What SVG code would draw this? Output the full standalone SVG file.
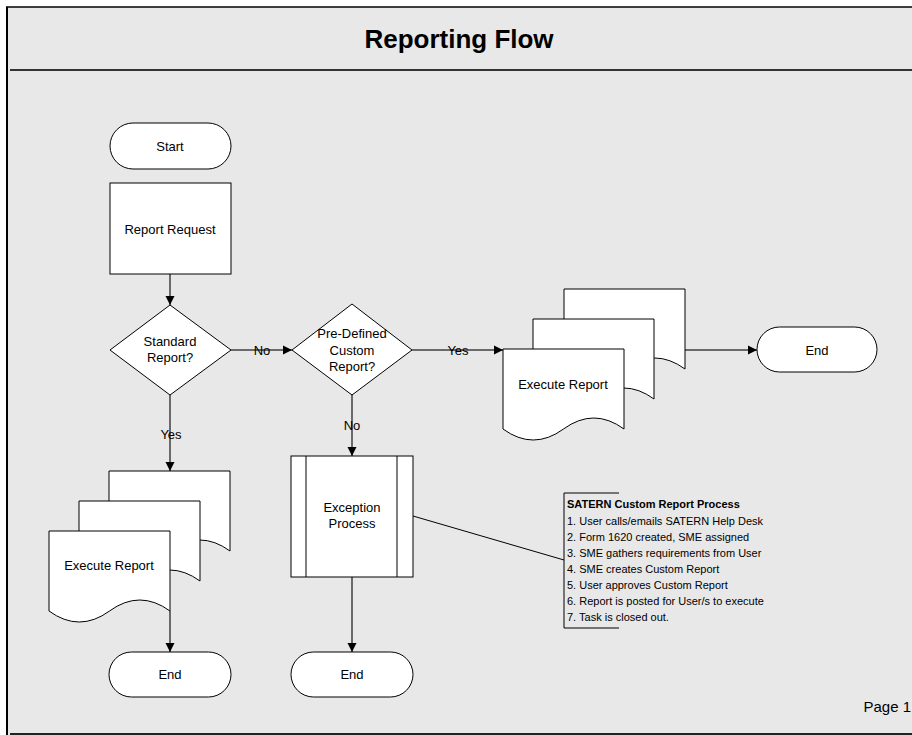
<svg xmlns="http://www.w3.org/2000/svg" width="912" height="735" viewBox="0 0 912 735">
<defs>
<style>
.t{font-family:"Liberation Sans",Arial,sans-serif;font-size:13px;fill:#000;text-anchor:middle}
.s{fill:#fff;stroke:#000;stroke-width:1}
.c{fill:none;stroke:#404040;stroke-width:1.5}
.a{font-family:"Liberation Sans",Arial,sans-serif;font-size:11px;fill:#000}
</style>
<marker id="ar" markerUnits="userSpaceOnUse" markerWidth="10" markerHeight="10" refX="9" refY="5" orient="auto">
<path d="M0,0.5 L9,5 L0,9.5 Z" fill="#000"/>
</marker>
</defs>
<rect x="0" y="0" width="912" height="735" fill="#fff"/>
<rect x="7" y="7" width="905" height="728" fill="#e8e8e8"/>
<line x1="6" y1="7" x2="912" y2="7" stroke="#000" stroke-width="1.5"/>
<line x1="7" y1="7" x2="7" y2="735" stroke="#000" stroke-width="2"/>
<line x1="10" y1="70" x2="912" y2="70" stroke="#333" stroke-width="2"/>
<line x1="10" y1="734" x2="912" y2="734" stroke="#222" stroke-width="2"/>
<text x="459" y="48" font-family="Liberation Sans,Arial,sans-serif" font-size="26" font-weight="bold" text-anchor="middle">Reporting Flow</text>

<g id="connectors">
<line class="c" x1="170" y1="274" x2="170" y2="305" marker-end="url(#ar)"/>
<line class="c" x1="231" y1="350" x2="292" y2="350" marker-end="url(#ar)"/>
<line class="c" x1="412" y1="350" x2="503" y2="350" marker-end="url(#ar)"/>
<line class="c" x1="685" y1="350" x2="757" y2="350" marker-end="url(#ar)"/>
<line class="c" x1="170" y1="395" x2="170" y2="471" marker-end="url(#ar)"/>
<line class="c" x1="170" y1="611" x2="170" y2="652" marker-end="url(#ar)"/>
<line class="c" x1="352" y1="395" x2="352" y2="456" marker-end="url(#ar)"/>
<line class="c" x1="352" y1="577" x2="352" y2="652" marker-end="url(#ar)"/>
<line x1="413" y1="516" x2="564" y2="560" stroke="#000" stroke-width="1"/>
<text class="t" x="262" y="355">No</text>
<text class="t" x="458" y="355">Yes</text>
<text class="t" x="171" y="439">Yes</text>
<text class="t" x="352" y="430">No</text>
</g>

<g id="start">
<rect class="s" x="110" y="123" width="121" height="46" rx="23"/>
<text class="t" x="170" y="151">Start</text>
</g>
<g id="report-request">
<rect class="s" x="110" y="183" width="121" height="91"/>
<text class="t" x="170" y="234">Report Request</text>
</g>
<g id="standard-report">
<polygon class="s" points="170,305 231,350 170,395 110,350"/>
<text class="t" x="170" y="346">Standard</text>
<text class="t" x="170" y="362">Report?</text>
</g>
<g id="predefined">
<polygon class="s" points="352,304 412,350 352,395 292,350"/>
<text class="t" x="352" y="338">Pre-Defined</text>
<text class="t" x="352" y="355">Custom</text>
<text class="t" x="352" y="371">Report?</text>
</g>
<g id="execute-report-right">
<path class="s" d="M564,369 V289 H685 V369 Q654.75,347 624.5,369 Q594.25,391 564,369 Z"/>
<path class="s" d="M533,399 V319 H654 V399 Q623.75,377 593.5,399 Q563.25,421 533,399 Z"/>
<path class="s" d="M503,429 V349 H624 V429 Q593.75,407 563.5,429 Q533.25,451 503,429 Z"/>
<text class="t" x="563" y="389">Execute Report</text>
</g>
<g id="end-right">
<rect class="s" x="757" y="327" width="120" height="45" rx="22.5"/>
<text class="t" x="817" y="355">End</text>
</g>
<g id="execute-report-left">
<path class="s" d="M109,551 V471 H230 V551 Q199.75,529 169.5,551 Q139.25,573 109,551 Z"/>
<path class="s" d="M79,581 V501 H200 V581 Q169.75,559 139.5,581 Q109.25,603 79,581 Z"/>
<path class="s" d="M49,611 V531 H170 V611 Q139.75,589 109.5,611 Q79.25,633 49,611 Z"/>
<text class="t" x="109" y="570">Execute Report</text>
</g>
<g id="end-left">
<rect class="s" x="109" y="652" width="122" height="45" rx="22.5"/>
<text class="t" x="170" y="679">End</text>
</g>
<g id="exception-process">
<rect class="s" x="291" y="456" width="122" height="121"/>
<line x1="306" y1="456" x2="306" y2="577" stroke="#000"/>
<line x1="397" y1="456" x2="397" y2="577" stroke="#000"/>
<text class="t" x="352" y="512">Exception</text>
<text class="t" x="352" y="528">Process</text>
</g>
<g id="end-middle">
<rect class="s" x="291" y="652" width="122" height="45" rx="22.5"/>
<text class="t" x="352" y="679">End</text>
</g>
<g id="annotation">
<path d="M619,493 H564 V628 H619" fill="none" stroke="#000" stroke-width="1"/>
<text class="a" x="567" y="508" font-weight="bold">SATERN Custom Report Process</text>
<text class="a" x="567" y="525">1. User calls/emails SATERN Help Desk</text>
<text class="a" x="567" y="541">2. Form 1620 created, SME assigned</text>
<text class="a" x="567" y="557">3. SME gathers requirements from User</text>
<text class="a" x="567" y="573">4. SME creates Custom Report</text>
<text class="a" x="567" y="589">5. User approves Custom Report</text>
<text class="a" x="567" y="605">6. Report is posted for User/s to execute</text>
<text class="a" x="567" y="621">7. Task is closed out.</text>
</g>
<text x="911" y="712" font-family="Liberation Sans,Arial,sans-serif" font-size="15" text-anchor="end">Page 1</text>
</svg>
